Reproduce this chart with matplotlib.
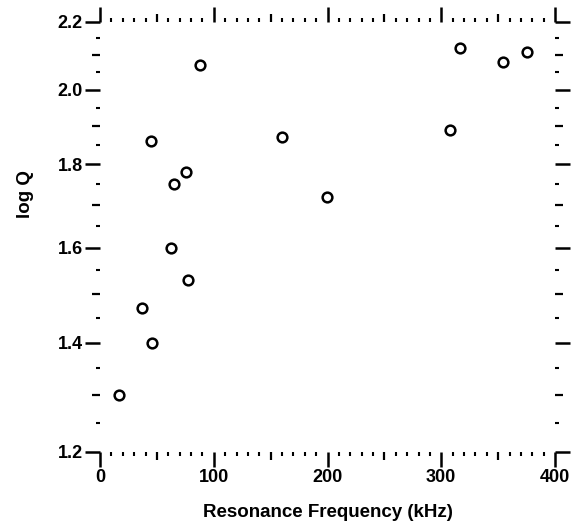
"""Resonance frequency vs log Q scatter, old-style tick frame (no spines)."""

import matplotlib

matplotlib.use("Agg")
import matplotlib.pyplot as plt
from matplotlib.ticker import FixedLocator, FormatStrFormatter, NullFormatter

plt.rcParams["font.family"] = ["Liberation Sans", "DejaVu Sans"]
plt.rcParams["font.weight"] = "bold"

freq_khz = [16.7, 36.9, 45.7, 44.8, 62.4, 65.1, 75.6, 77.4, 87.9,
            160.0, 199.6, 307.7, 316.5, 354.3, 375.4]
log_q = [1.30, 1.47, 1.40, 1.86, 1.60, 1.75, 1.78, 1.53, 2.07,
         1.87, 1.72, 1.89, 2.12, 2.08, 2.11]

x_major = [0, 100, 200, 300, 400]
x_mid = [50, 150, 250, 350]
x_minor = [v for v in range(0, 401, 10) if v % 50 != 0]
y_major = [1.2, 1.4, 1.6, 1.8, 2.0, 2.2]
y_mid = [1.3, 1.5, 1.7, 1.9, 2.1]
y_minor = [1.25, 1.35, 1.45, 1.55, 1.65, 1.75, 1.85, 1.95, 2.05, 2.15]

INK = "#000000"


def style_axes(a):
    a.set_xlim(0, 400)
    a.set_yscale("log")
    a.set_ylim(1.2, 2.2)
    for spine in a.spines.values():
        spine.set_visible(False)


fig = plt.figure(figsize=(5.74, 5.25), dpi=100)
rect = [100 / 574, 1 - 452 / 525, 455 / 574, 430 / 525]
ax = fig.add_axes(rect)
style_axes(ax)

ax.plot(freq_khz, log_q, linestyle="none", marker="o", markersize=7,
        markerfacecolor="white", markeredgecolor=INK, markeredgewidth=1.8,
        clip_on=False, zorder=3)

ax.xaxis.set_major_locator(FixedLocator(x_major))
ax.xaxis.set_minor_locator(FixedLocator(x_minor))
ax.yaxis.set_major_locator(FixedLocator(y_major))
ax.yaxis.set_minor_locator(FixedLocator(y_minor))
ax.yaxis.set_major_formatter(FormatStrFormatter("%.1f"))
ax.yaxis.set_minor_formatter(NullFormatter())

ax.tick_params(which="major", direction="out", length=10.5, width=1.8,
               color=INK, labelsize=13, pad=2,
               top=True, right=True, labeltop=False, labelright=False)
ax.tick_params(which="minor", direction="out", length=3, width=1.5,
               color=INK, top=True, right=True)
for lab in ax.get_xticklabels() + ax.get_yticklabels():
    lab.set_fontweight("bold")

ax.set_xlabel("Resonance Frequency (kHz)", fontsize=13.5, fontweight="bold",
              labelpad=13)
ax.set_ylabel("log Q", fontsize=13.5, fontweight="bold")
ax.yaxis.set_label_coords(-0.145, 0.6)

# medium-length ticks at the half steps, drawn on an overlay axes
mid = fig.add_axes(rect, frameon=False)
style_axes(mid)
mid.patch.set_visible(False)
mid.xaxis.set_major_locator(FixedLocator(x_mid))
mid.yaxis.set_major_locator(FixedLocator(y_mid))
mid.xaxis.set_minor_locator(FixedLocator([]))
mid.yaxis.set_minor_locator(FixedLocator([]))
mid.tick_params(which="major", direction="out", length=6, width=1.6,
                color=INK, top=True, right=True, bottom=True, left=True,
                labelbottom=False, labelleft=False)

fig.savefig("out.png", dpi=100, facecolor="white")
